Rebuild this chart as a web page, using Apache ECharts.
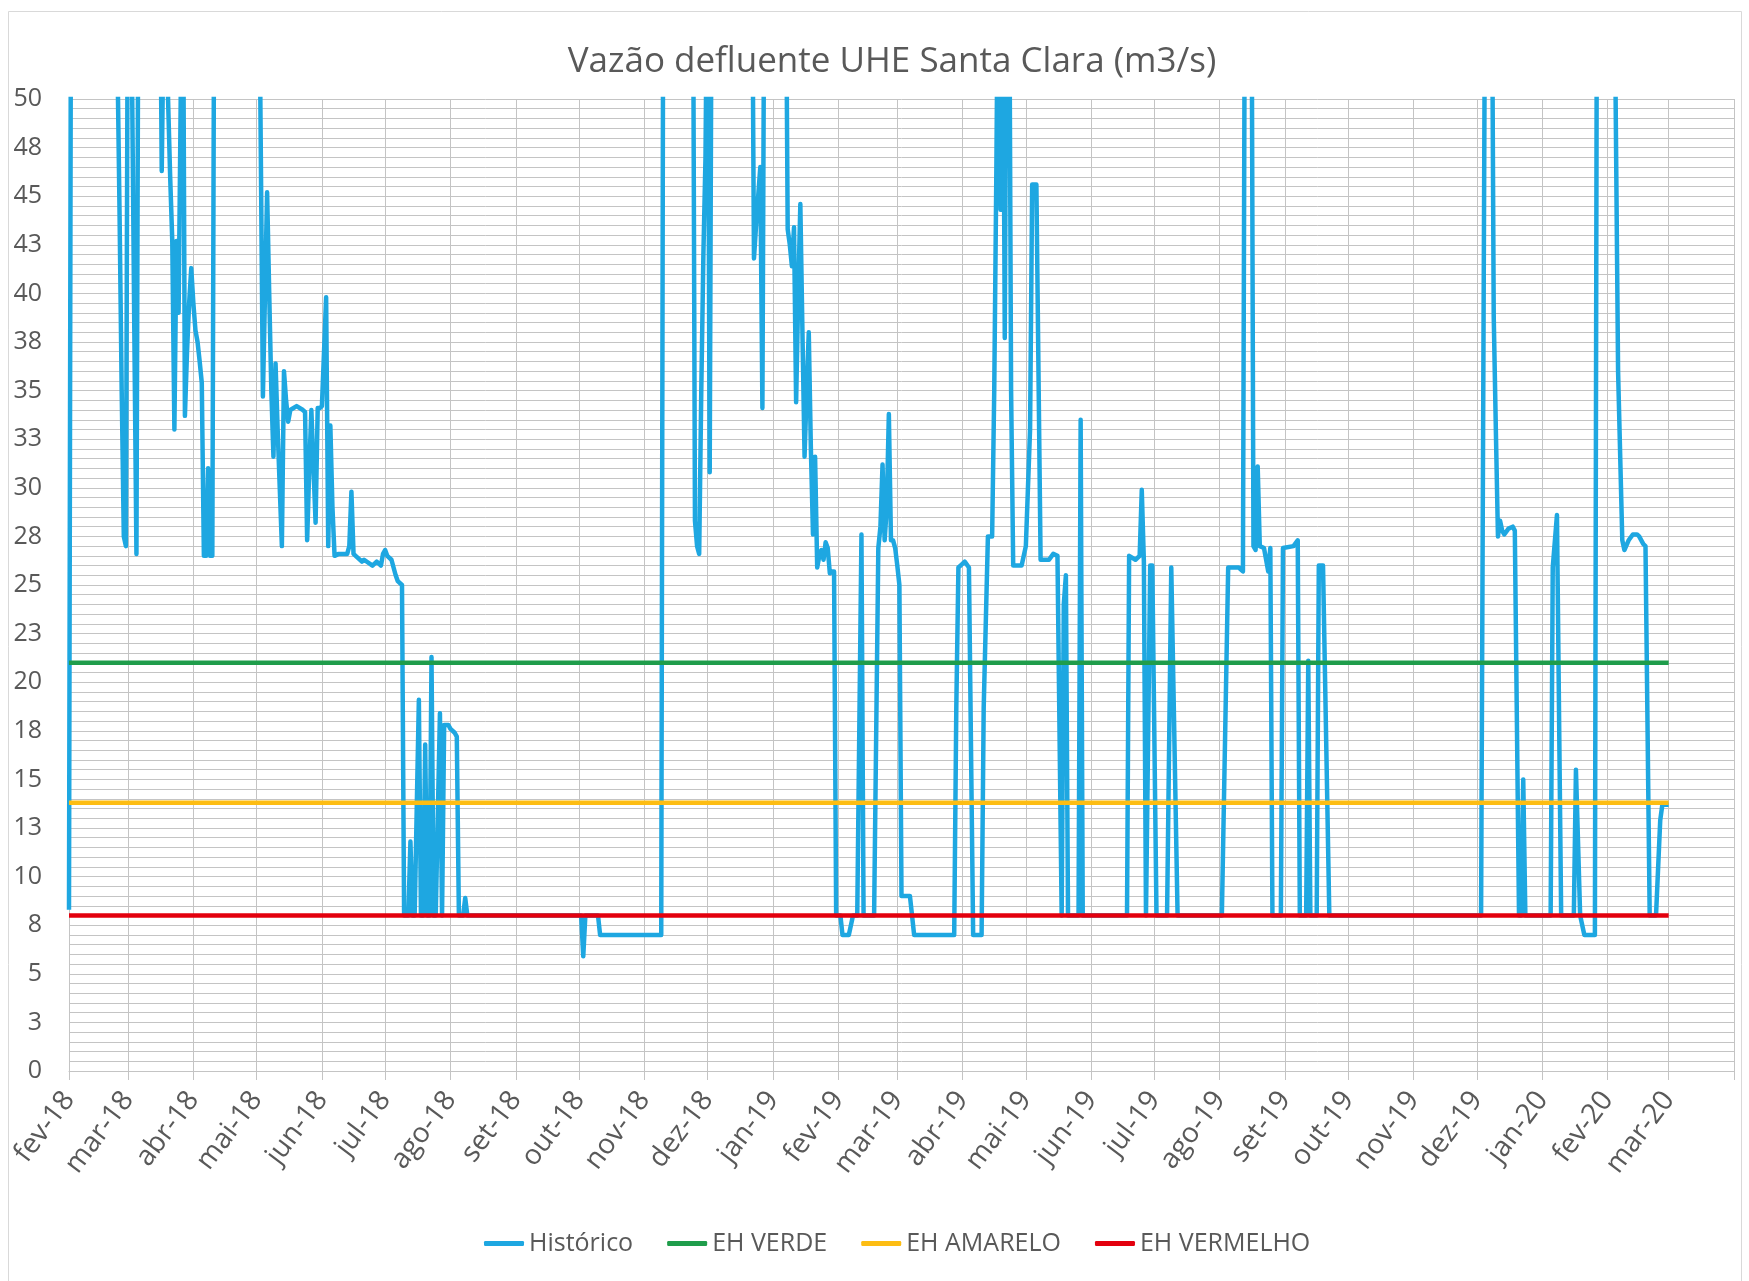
<!DOCTYPE html>
<html>
<head>
<meta charset="utf-8">
<script src="https://cdn.jsdelivr.net/npm/echarts@6/dist/echarts.min.js"></script>
<style>
html,body{margin:0;padding:0;background:#fff;}
#chart{width:1749px;height:1281px;}
</style>
</head>
<body>
<div id="chart"></div>
<script>
// ---- data ----
const titleText = 'Vazão defluente UHE Santa Clara (m3/s)';
const seriesNames = ['Histórico', 'EH VERDE', 'EH AMARELO', 'EH VERMELHO'];
const seriesColors = ['#1ea7e1', '#1f9d4b', '#fdbd13', '#e3000e'];

const yTickLabels = ['0','3','5','8','10','13','15','18','20','23','25','28','30','33','35','38','40','43','45','48','50'];

const xTickDates = ['2018-02-01','2018-03-01','2018-04-01','2018-05-01','2018-06-01','2018-07-01','2018-08-01','2018-09-01','2018-10-01','2018-11-01','2018-12-01',
  '2019-01-01','2019-02-01','2019-03-01','2019-04-01','2019-05-01','2019-06-01','2019-07-01','2019-08-01','2019-09-01','2019-10-01','2019-11-01','2019-12-01',
  '2020-01-01','2020-02-01','2020-03-01','2020-04-01'];
const xTickLabels = ['fev-18','mar-18','abr-18','mai-18','jun-18','jul-18','ago-18','set-18','out-18','nov-18','dez-18',
  'jan-19','fev-19','mar-19','abr-19','mai-19','jun-19','jul-19','ago-19','set-19','out-19','nov-19','dez-19',
  'jan-20','fev-20','mar-20'];

// threshold levels (m3/s) and their date span
const thresholdValues = [21, 13.8, 8];
const thresholdDates = ['2018-02-01', '2020-03-01'];

// Histórico: dates and flows (values above 50 run off the top of the chart)
const histDates = [
'2018-02-01','2018-02-02','2018-02-23','2018-02-24','2018-02-25','2018-02-26','2018-02-27','2018-02-28',
'2018-03-01','2018-03-02','2018-03-03','2018-03-04','2018-03-05','2018-03-06','2018-03-16','2018-03-17','2018-03-18','2018-03-19',
'2018-03-20','2018-03-21','2018-03-22','2018-03-23','2018-03-24','2018-03-25','2018-03-26','2018-03-27','2018-03-28','2018-03-29',
'2018-03-30','2018-03-31','2018-04-01','2018-04-02','2018-04-03','2018-04-04','2018-04-05','2018-04-06','2018-04-07','2018-04-08',
'2018-04-09','2018-04-10','2018-04-11','2018-05-02','2018-05-04','2018-05-05','2018-05-06','2018-05-07','2018-05-08','2018-05-09',
'2018-05-10','2018-05-11','2018-05-12','2018-05-13','2018-05-14','2018-05-15','2018-05-16','2018-05-17','2018-05-20','2018-05-23',
'2018-05-24','2018-05-25','2018-05-26','2018-05-27','2018-05-28','2018-05-29','2018-05-30','2018-05-31','2018-06-01','2018-06-02',
'2018-06-03','2018-06-04','2018-06-05','2018-06-06','2018-06-07','2018-06-09','2018-06-13','2018-06-14','2018-06-15','2018-06-16',
'2018-06-17','2018-06-20','2018-06-21','2018-06-25','2018-06-27','2018-06-29','2018-06-30','2018-07-01','2018-07-02','2018-07-04',
'2018-07-06','2018-07-07','2018-07-09','2018-07-10','2018-07-12','2018-07-13','2018-07-14','2018-07-15','2018-07-17','2018-07-18',
'2018-07-19','2018-07-20','2018-07-21','2018-07-22','2018-07-23','2018-07-24','2018-07-25','2018-07-27','2018-07-28','2018-07-29',
'2018-07-31','2018-08-01','2018-08-03','2018-08-04','2018-08-05','2018-08-07','2018-08-08','2018-08-09','2018-10-02','2018-10-03',
'2018-10-04','2018-10-10','2018-10-11','2018-11-09','2018-11-10','2018-11-24','2018-11-25','2018-11-26','2018-11-27','2018-11-28',
'2018-11-29','2018-11-30','2018-12-01','2018-12-02','2018-12-03','2018-12-22','2018-12-23','2018-12-24','2018-12-25','2018-12-26',
'2018-12-27','2018-12-28','2019-01-07','2019-01-08','2019-01-09','2019-01-10','2019-01-11','2019-01-12','2019-01-13','2019-01-14',
'2019-01-15','2019-01-16','2019-01-17','2019-01-18','2019-01-19','2019-01-20','2019-01-21','2019-01-22','2019-01-23','2019-01-24',
'2019-01-25','2019-01-26','2019-01-27','2019-01-28','2019-01-29','2019-01-30','2019-01-31','2019-02-02','2019-02-03','2019-02-06',
'2019-02-08','2019-02-10','2019-02-12','2019-02-13','2019-02-18','2019-02-20','2019-02-21','2019-02-22','2019-02-23','2019-02-24',
'2019-02-25','2019-02-26','2019-02-27','2019-02-28','2019-03-01','2019-03-02','2019-03-03','2019-03-07','2019-03-08','2019-03-09',
'2019-03-28','2019-03-29','2019-03-30','2019-03-31','2019-04-02','2019-04-04','2019-04-06','2019-04-10','2019-04-11','2019-04-13',
'2019-04-15','2019-04-16','2019-04-17','2019-04-18','2019-04-19','2019-04-20','2019-04-21','2019-04-22','2019-04-23','2019-04-24',
'2019-04-25','2019-04-29','2019-05-01','2019-05-03','2019-05-04','2019-05-06','2019-05-08','2019-05-12','2019-05-14','2019-05-16',
'2019-05-18','2019-05-19','2019-05-20','2019-05-21','2019-05-26','2019-05-27','2019-05-28','2019-06-18','2019-06-19','2019-06-22',
'2019-06-24','2019-06-25','2019-06-26','2019-06-27','2019-06-29','2019-06-30','2019-07-02','2019-07-07','2019-07-09','2019-07-12',
'2019-08-02','2019-08-05','2019-08-10','2019-08-12','2019-08-13','2019-08-16','2019-08-17','2019-08-18','2019-08-19','2019-08-20',
'2019-08-22','2019-08-24','2019-08-25','2019-08-26','2019-08-30','2019-08-31','2019-09-05','2019-09-07','2019-09-08','2019-09-11',
'2019-09-12','2019-09-13','2019-09-16','2019-09-17','2019-09-19','2019-09-22','2019-12-03','2019-12-05','2019-12-08','2019-12-09',
'2019-12-10','2019-12-11','2019-12-12','2019-12-13','2019-12-14','2019-12-16','2019-12-18','2019-12-19','2019-12-21','2019-12-22',
'2019-12-23','2019-12-24','2020-01-05','2020-01-06','2020-01-08','2020-01-10','2020-01-16','2020-01-17','2020-01-19','2020-01-21',
'2020-01-26','2020-01-27','2020-02-04','2020-02-06','2020-02-08','2020-02-09','2020-02-11','2020-02-13','2020-02-15','2020-02-16',
'2020-02-18','2020-02-19','2020-02-21','2020-02-24','2020-02-26','2020-02-27','2020-03-01'
];
const histValues = [
8.3,60,60,52,44,35,27.5,27.0,
60,60,50,38,26.6,60,60,46.3,55,60,
50,46,42.7,33,42.7,39,50,60,33.7,37,
39.5,41.3,39.5,38.1,37.5,36.5,35.4,26.5,26.5,31,
26.5,26.5,60,60,34.7,40,45.2,40,35,31.6,
36.4,33,30,27,36,34.5,33.4,34,34.2,34,
33.9,27.3,31,34,31,28.2,34.1,34.1,34.2,37,
39.8,27.0,33.2,29,26.5,26.6,26.6,27,29.8,26.6,
26.5,26.2,26.3,26.0,26.2,26.0,26.6,26.8,26.5,26.3,
25.5,25.2,25.0,8,8,11.8,8,8,19.1,8,
8,16.8,8,8,21.3,8,8,18.4,8,17.8,
17.8,17.6,17.4,17.2,8,8,8.9,8,8,5.9,
8,8,7.0,7.0,60,60,28.3,27,26.6,35,
42,47,60,30.8,60,60,41.8,43.5,45,46.5,
34.1,60,60,43.3,42.5,41.4,43.4,34.4,40,44.6,
38,31.6,35,38,32,27.6,31.6,25.9,26.5,26.8,
26.3,27.2,26.9,25.6,25.7,25.7,8,8,7.0,7.0,
8,8,27.6,8,8,26.9,28,31.2,27.3,29,
33.8,27.3,27.3,26.9,26,25,9.0,9.0,8,7.0,
7.0,18.7,25.9,26,26.2,25.9,7.0,7.0,18.7,27.5,
27.5,35,46.3,60,44.3,60,37.7,60,60,35,
26,26,27,33,45.6,45.6,26.3,26.3,26.6,26.5,
8,24,25.5,8,8,33.5,8,8,26.5,26.3,
26.5,29.9,26.2,8,26,26,8,8,25.9,8,
8,25.9,25.9,25.7,60,60,27,26.8,31.1,27,
26.9,25.7,26.9,8,8,26.9,27,27.3,8,8,
21.1,8,8,26,26,8,8,60,60,38.8,
33,27.5,28.3,27.8,27.6,27.9,28,27.8,8,8,
15,8,8,25.9,28.6,8,8,15.5,8,7.0,
7.0,60,60,36,27.3,26.8,27.3,27.6,27.6,27.5,
27.1,27,8,8,12.9,13.7,13.7
];

// ---- helpers ----
function ts(s) { const p = s.split('-').map(Number); return Date.UTC(p[0], p[1] - 1, p[2]); }
const xTickTs = xTickDates.map(ts);

// ---- chart ----
const FONT = "'Open Sans', sans-serif";
const TXT = '#595959';
const GRIDC = '#c4c4c4';

const chart = echarts.init(document.getElementById('chart'), null, {renderer: 'canvas'});

const series = [{
  name: seriesNames[0],
  type: 'line',
  data: histDates.map((d, i) => [ts(d), histValues[i]]),
  showSymbol: false,
  symbol: 'none',
  clip: true,
  lineStyle: {width: 4.5, color: seriesColors[0], join: 'round'},
  itemStyle: {color: seriesColors[0]},
  z: 2
}];
thresholdValues.forEach((v, k) => {
  series.push({
    name: seriesNames[k + 1],
    type: 'line',
    data: thresholdDates.map(d => [ts(d), v]),
    showSymbol: false,
    symbol: 'none',
    lineStyle: {width: 4.5, color: seriesColors[k + 1]},
    itemStyle: {color: seriesColors[k + 1]},
    z: 3 + k
  });
});

chart.setOption({
  animation: false,
  backgroundColor: '#ffffff',
  graphic: [{
    type: 'rect',
    shape: {x: 8.5, y: 11.5, width: 1733, height: 1300},
    style: {fill: 'none', stroke: '#d9d9d9', lineWidth: 1},
    silent: true
  }],
  title: {
    text: titleText,
    left: 887,
    textAlign: 'center',
    top: 40,
    textStyle: {fontFamily: FONT, fontSize: 35, fontWeight: 'normal', color: TXT}
  },
  legend: {
    data: seriesNames,
    bottom: 20,
    left: 479,
    icon: 'roundRect',
    itemWidth: 40,
    itemHeight: 5,
    itemGap: 34,
    textStyle: {fontFamily: FONT, fontSize: 25, color: TXT}
  },
  grid: {left: 69, right: 15, top: 99, bottom: 210},
  xAxis: {
    type: 'value',
    min: xTickTs[0],
    max: xTickTs[xTickTs.length - 1],
    axisLine: {show: true, onZero: false, lineStyle: {color: GRIDC, width: 1}},
    axisTick: {show: true, customValues: xTickTs, length: 9, lineStyle: {color: GRIDC}},
    splitLine: {show: true, lineStyle: {color: GRIDC, width: 1}},
    axisLabel: {
      customValues: xTickTs.slice(0, xTickLabels.length),
      rotate: 53,
      margin: 24,
      fontFamily: FONT,
      fontSize: 28,
      color: TXT,
      hideOverlap: false,
      formatter: function (value) {
        const idx = xTickTs.indexOf(value);
        return idx >= 0 && idx < xTickLabels.length ? xTickLabels[idx] : '';
      }
    }
  },
  yAxis: {
    type: 'value',
    min: 0,
    max: 50,
    interval: 2.5,
    axisLine: {show: true, lineStyle: {color: GRIDC}},
    axisTick: {show: false},
    splitLine: {show: true, lineStyle: {color: GRIDC, width: 1}},
    minorTick: {show: false, splitNumber: 5},
    minorSplitLine: {show: true, lineStyle: {color: GRIDC, width: 1}},
    axisLabel: {
      margin: 27,
      fontFamily: FONT,
      fontSize: 25,
      color: TXT,
      formatter: function (v) { return yTickLabels[Math.round(v / 2.5)]; }
    }
  },
  series: series
});
</script>
</body>
</html>
